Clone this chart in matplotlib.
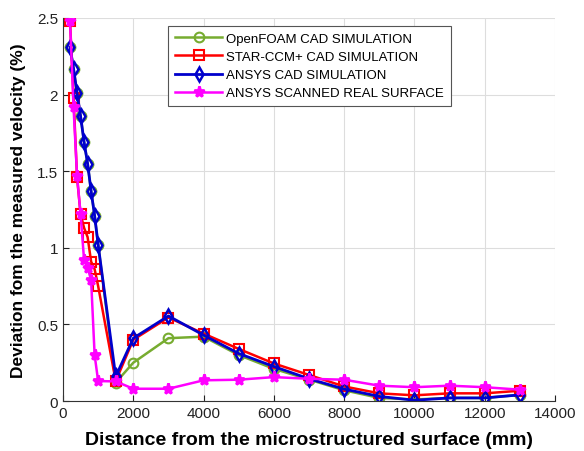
import matplotlib
matplotlib.use('Agg')
import matplotlib.pyplot as plt

plt.rcParams['font.family'] = ['Liberation Sans', 'DejaVu Sans']

# distance from surface (mm)
x = [200, 300, 400, 500, 600, 700, 800, 900, 1000, 1500, 2000, 3000, 4000,
     5000, 6000, 7000, 8000, 9000, 10000, 11000, 12000, 13000]

openfoam = [2.31, 2.17, 2.01, 1.86, 1.69, 1.55, 1.37, 1.21, 1.02, 0.12, 0.25,
            0.41, 0.42, 0.30, 0.21, 0.14, 0.07, 0.02, 0.01, 0.02, 0.02, 0.04]
starccm = [2.48, 1.98, 1.46, 1.22, 1.13, 1.07, 0.91, 0.86, 0.75, 0.13, 0.40,
           0.545, 0.44, 0.34, 0.245, 0.17, 0.095, 0.05, 0.037, 0.05, 0.05, 0.067]
ansys = [2.31, 2.17, 2.01, 1.86, 1.69, 1.55, 1.37, 1.21, 1.02, 0.16, 0.41,
         0.555, 0.43, 0.31, 0.225, 0.145, 0.078, 0.03, 0.005, 0.02, 0.02, 0.04]
scanned = [2.48, 1.92, 1.47, 1.22, 0.92, 0.87, 0.79, 0.30, 0.13, 0.128, 0.08,
           0.08, 0.135, 0.139, 0.156, 0.145, 0.139, 0.10, 0.09, 0.10, 0.09, 0.074]

fig = plt.figure(figsize=(5.84, 4.52), dpi=100)
ax = fig.add_axes([63/584, 1-402/452, 492/584, 383/452])

ax.plot(x, openfoam, color='#77AC30', lw=1.8, marker='o', ms=7, mfc='none',
        mew=1.5, label='OpenFOAM CAD SIMULATION')
ax.plot(x, starccm, color='#FF0000', lw=1.8, marker='s', ms=6.5, mfc='none',
        mew=1.5, label='STAR-CCM+ CAD SIMULATION')
ax.plot(x, ansys, color='#0000CC', lw=2, marker='d', ms=7.5, mfc='none',
        mew=1.8, label='ANSYS CAD SIMULATION')
ax.plot(x, scanned, color='#FF00FF', lw=1.8, marker='*', ms=8, mew=2,
        label='ANSYS SCANNED REAL SURFACE')

ax.set_xlim(0, 14000)
ax.set_ylim(0, 2.5)
ax.set_xticks(range(0, 14001, 2000))
ax.set_yticks([0, 0.5, 1, 1.5, 2, 2.5])
ax.set_yticklabels(['0', '0.5', '1', '1.5', '2', '2.5'])
ax.grid(True, color='#dddddd', lw=0.8)
ax.set_axisbelow(True)
ax.spines['top'].set_visible(False)
ax.spines['right'].set_visible(False)
for s in ['left', 'bottom']:
    ax.spines[s].set_color('#333333')
ax.tick_params(direction='in', labelsize=11, colors='#222222', length=4)

ax.set_xlabel('Distance from the microstructured surface (mm)', fontsize=14,
              fontweight='bold', labelpad=8)
ax.set_ylabel('Deviation fom the measured velocity (%)', fontsize=12.5,
              fontweight='bold', labelpad=8)

leg = ax.legend(loc='upper left', bbox_to_anchor=(0.214, 0.979), fontsize=9.5,
                frameon=True, fancybox=False, framealpha=1, edgecolor='#555555',
                handlelength=3.6, borderpad=0.5, labelspacing=0.45,
                handletextpad=0.3, borderaxespad=0)
leg.get_frame().set_linewidth(0.8)

fig.savefig('out.png', dpi=100)
